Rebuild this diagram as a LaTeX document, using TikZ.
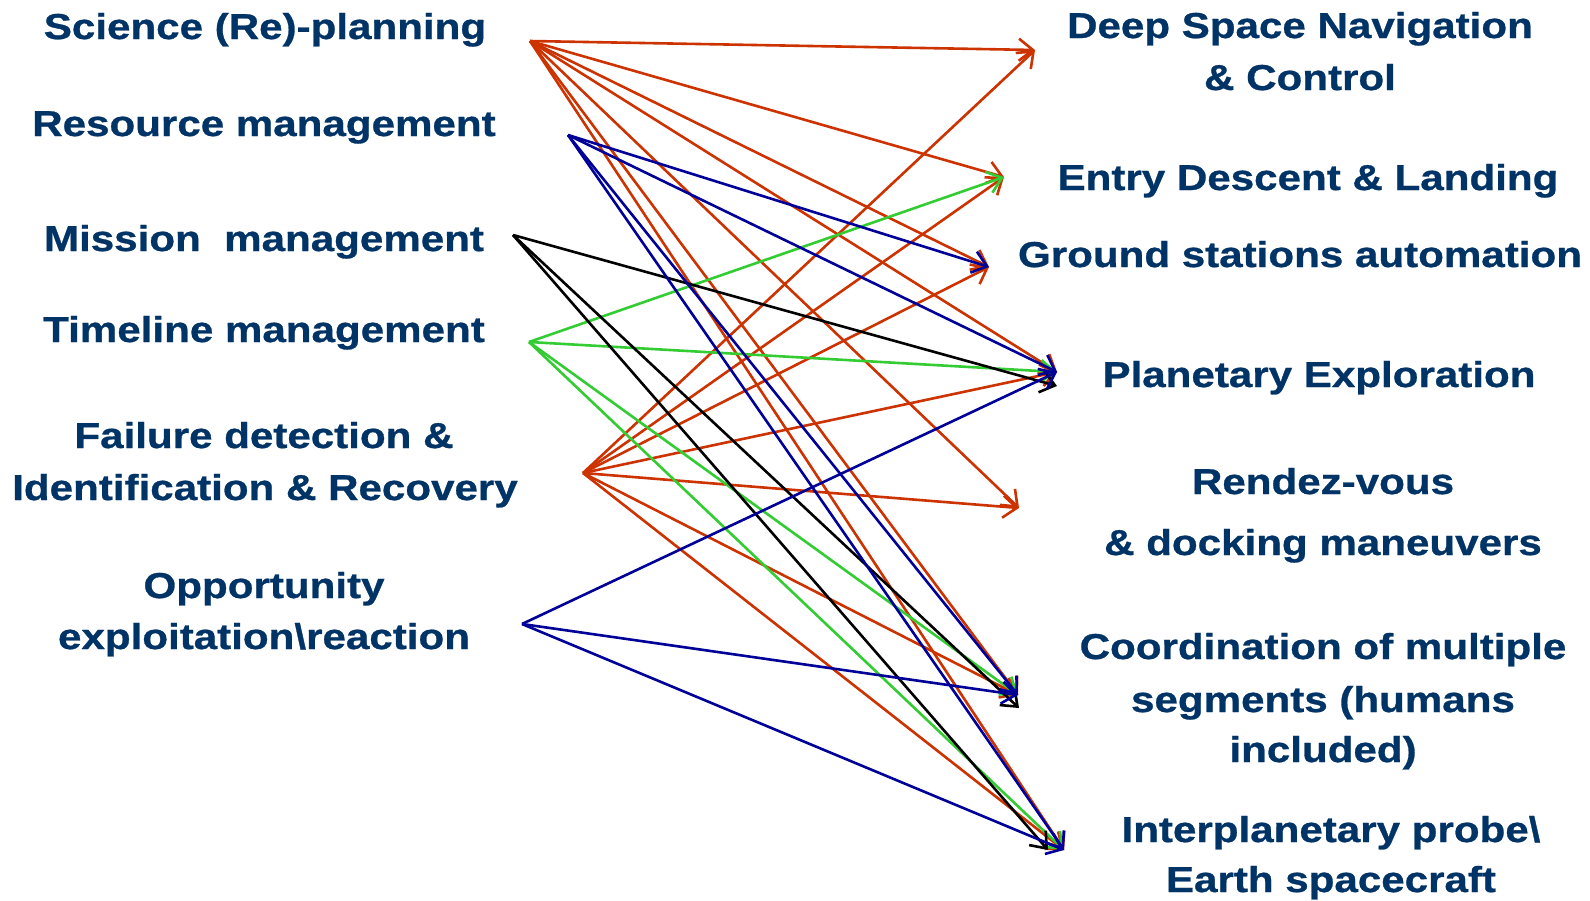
\documentclass[tikz,border=0pt]{standalone}
\usepackage{fontspec}
\setmainfont[FakeStretch=1.17,BoldFeatures={FakeBold=0.8}]{Liberation Sans}
\usetikzlibrary{arrows.meta}
\definecolor{txt}{RGB}{0,51,102}
\definecolor{cred}{RGB}{204,51,0}
\definecolor{cblue}{RGB}{0,0,153}
\definecolor{cgreen}{RGB}{51,204,51}
\begin{document}
\begin{tikzpicture}[x=1pt,y=-1pt,
  lbl/.style={text=txt, font=\fontsize{36}{44}\selectfont\bfseries, inner sep=0pt, anchor=base},
  link/.style={line width=2.6pt, -{Straight Barb[length=14pt,width=22pt]}},
  redl/.style={link, draw=cred},
  bluel/.style={link, draw=cblue},
  greenl/.style={link, draw=cgreen},
  blackl/.style={link, draw=black}]
\useasboundingbox (0,0) rectangle (1590,900);
\fill[white] (0,0) rectangle (1590,900);

% left labels
\node[lbl] (sci) at (265,39) {Science (Re)-planning};
\node[lbl] (res) at (264,136) {Resource management};
\node[lbl] (mis) at (264,251) {Mission\ \ management};
\node[lbl] (tim) at (264,342) {Timeline management};
\node[lbl] (fail1) at (264,448) {Failure detection \&};
\node[lbl] (fail2) at (265,500) {Identification \& Recovery};
\node[lbl] (opp1) at (264,598) {Opportunity};
\node[lbl] (opp2) at (264,649) {exploitation\textbackslash reaction};

% right labels
\node[lbl] (dsn1) at (1300,38) {Deep Space Navigation};
\node[lbl] (dsn2) at (1300,90) {\& Control};
\node[lbl] (edl) at (1308,190) {Entry Descent \& Landing};
\node[lbl] (gnd) at (1300,267) {Ground stations automation};
\node[lbl] (pla) at (1319,387) {Planetary Exploration};
\node[lbl] (ren1) at (1323,494) {Rendez-vous};
\node[lbl] (ren2) at (1323,555) {\& docking maneuvers};
\node[lbl] (coo1) at (1323,659) {Coordination of multiple};
\node[lbl] (coo2) at (1323,712) {segments (humans};
\node[lbl] (coo3) at (1323,762) {included)};
\node[lbl] (int1) at (1331,842) {Interplanetary probe\textbackslash};
\node[lbl] (int2) at (1331,892) {Earth spacecraft};

% source points
\coordinate (s1) at (530,41);
\coordinate (s2) at (568,135);
\coordinate (s3) at (513,235);
\coordinate (s4) at (529,342);
\coordinate (s5) at (583,473);
\coordinate (s6) at (522,624);

% target points
\coordinate (t1) at (1035,50);
\coordinate (t2) at (1004,177);
\coordinate (t3) at (989,267);
\coordinate (t4) at (1057,372);
\coordinate (t4b) at (1057,386);
\coordinate (t5) at (1019,508);
\coordinate (t6) at (1018,695);
\coordinate (t6b) at (1019,708);
\coordinate (t7) at (1064,850);
\coordinate (t7b) at (1048,850);

% Science (red)
\foreach \t in {t1,t2,t3,t4,t5,t6,t7} \draw[redl] (s1) -- (\t);
% Failure (red)
\foreach \t in {t1,t2,t3,t4,t5,t6,t7} \draw[redl] (s5) -- (\t);
% Timeline (green)
\foreach \t in {t2,t4,t6,t7} \draw[greenl] (s4) -- (\t);
% Mission (black)
\foreach \t in {t4b,t6b,t7b} \draw[blackl] (s3) -- (\t);
% Resource (blue)
\foreach \t in {t3,t4,t6,t7} \draw[bluel] (s2) -- (\t);
% Opportunity (blue)
\foreach \t in {t4,t6,t7} \draw[bluel] (s6) -- (\t);
\end{tikzpicture}
\end{document}
